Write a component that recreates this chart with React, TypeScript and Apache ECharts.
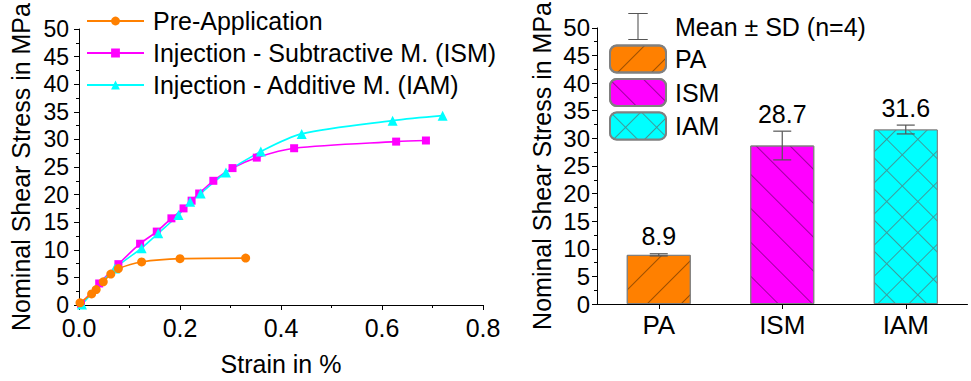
import React, { useEffect, useRef } from "react";
import * as echarts from "echarts";

// ---- Left chart: stress-strain curves (strain %, stress MPa)
const preApplication: [number, number][] = [
  [0.002, 0.4], [0.025, 2.0], [0.034, 2.8], [0.048, 4.2], [0.063, 5.6],
  [0.078, 6.6], [0.124, 7.8], [0.2, 8.4], [0.33, 8.5],
];
const injectionSubtractive: [number, number][] = [
  [0.004, 0.2], [0.04, 3.9], [0.078, 7.4], [0.121, 11.1], [0.154, 13.3],
  [0.183, 15.7], [0.207, 17.5], [0.223, 18.9], [0.238, 20.2], [0.266, 22.5],
  [0.304, 24.8], [0.352, 26.7], [0.426, 28.4], [0.628, 29.6], [0.687, 29.8],
];
const injectionAdditive: [number, number][] = [
  [0.006, 0.1], [0.071, 6.6], [0.124, 10.3], [0.157, 13.0], [0.197, 16.3],
  [0.22, 18.7], [0.241, 20.2], [0.291, 24.0], [0.36, 27.8], [0.441, 31.0],
  [0.621, 33.4], [0.72, 34.3],
];
const lineNames = [
  "Pre-Application",
  "Injection - Subtractive M. (ISM)",
  "Injection - Additive M. (IAM)",
];

// ---- Right chart: mean ± SD bars
const categories = ["PA", "ISM", "IAM"];
const means = [8.9, 28.7, 31.6];
const sds = [0.2, 2.6, 0.8];
const errorName = "Mean \u00b1 SD (n=4)";

const FONT = '"Liberation Sans", Arial, sans-serif';

const axisCommon = {
  axisLine: { show: true, lineStyle: { color: "#000", width: 1 } },
  axisTick: { show: true, length: 5, lineStyle: { color: "#000", width: 1 } },
  splitLine: { show: false },
};

export default function App() {
  const ref = useRef<HTMLDivElement>(null);

  useEffect(() => {
    if (!ref.current) return;
    const chart = echarts.init(ref.current, null, { renderer: "svg" });

    const barColors = ["#FF8000", "#FF00FF", "#3c9c9c"];
    const decals: any[] = [
      {
        symbol: "rect", symbolSize: 1, dashArrayX: [24, 0], dashArrayY: [1, 23],
        rotation: -Math.PI / 4, color: "rgba(0,0,0,0.38)",
      },
      {
        symbol: "rect", symbolSize: 1, dashArrayX: [24, 0], dashArrayY: [1, 23],
        rotation: Math.PI / 4, color: "rgba(0,0,0,0.38)",
      },
      {
        symbol: "rect", symbolSize: 1, dashArrayX: [21, 1], dashArrayY: [21, 1],
        rotation: Math.PI / 4, color: "#00FFFF",
      },
    ];

    const barSeries = categories.map((c, i) => ({
      name: c,
      type: "bar",
      xAxisIndex: 1,
      yAxisIndex: 1,
      barWidth: 64,
      barGap: "-100%",
      data: categories.map((_, j) => (j === i ? means[j] : "-")),
      itemStyle: {
        color: barColors[i],
        borderColor: "#808080",
        borderWidth: 1,
        decal: decals[i],
      },
    }));

    const errorData = categories.map((_, i) => [i, means[i], sds[i]]);

    const option: any = {
      animation: false,
      backgroundColor: "#fff",
      textStyle: { fontFamily: FONT, color: "#000" },
      grid: [
        { left: 79, top: 29, width: 404, height: 276 },
        { left: 597, top: 18, width: 370.5, height: 286 },
      ],
      legend: [
        {
          data: lineNames,
          orient: "vertical",
          left: 86,
          top: 8.5,
          padding: 0,
          itemWidth: 57,
          itemHeight: 11,
          itemGap: 7,
          selectedMode: false,
          textStyle: { fontFamily: FONT, fontSize: 25, lineHeight: 25, color: "#000", padding: [0, 0, 0, 4] },
        },
        {
          data: [
            {
              name: errorName,
              icon: "path://M0,0h18v1h-18z M8.5,0h1v25h-1z M0,24h18v1h-18z",
              itemStyle: { color: "#555" },
            },
            "PA",
            "ISM",
            "IAM",
          ],
          orient: "vertical",
          left: 609,
          top: 13,
          padding: 0,
          itemWidth: 56,
          itemHeight: 27,
          itemGap: 4.5,
          selectedMode: false,
          textStyle: { fontFamily: FONT, fontSize: 25, lineHeight: 25, color: "#000", padding: [0, 0, 0, 4] },
        },
      ],
      xAxis: [
        {
          ...axisCommon,
          gridIndex: 0,
          type: "value",
          min: 0,
          max: 0.8,
          interval: 0.2,
          minorTick: { show: true, splitNumber: 2, length: 3, lineStyle: { color: "#000" } },
          axisLabel: {
            fontSize: 25, lineHeight: 22, color: "#000", fontFamily: FONT, margin: 12,
            formatter: (v: number) => v.toFixed(1),
          },
          name: "Strain in %",
          nameLocation: "middle",
          nameGap: 46,
          nameTextStyle: { fontSize: 25, color: "#000", fontFamily: FONT },
        },
        {
          ...axisCommon,
          gridIndex: 1,
          type: "category",
          data: categories,
          axisTick: { show: true, alignWithLabel: true, length: 5, lineStyle: { color: "#000" } },
          axisLabel: { fontSize: 26, color: "#000", fontFamily: FONT, margin: 8 },
        },
      ],
      yAxis: [
        {
          ...axisCommon,
          gridIndex: 0,
          type: "value",
          min: 0,
          max: 50,
          interval: 5,
          minorTick: { show: true, splitNumber: 2, length: 3, lineStyle: { color: "#000" } },
          axisLabel: { fontSize: 23, lineHeight: 18, color: "#000", fontFamily: FONT, margin: 10 },
          name: "Nominal Shear Stress in MPa",
          nameLocation: "middle",
          nameGap: 46,
          nameTextStyle: { fontSize: 25, color: "#000", fontFamily: FONT },
        },
        {
          ...axisCommon,
          gridIndex: 1,
          type: "value",
          min: 0,
          max: 50,
          interval: 5,
          minorTick: { show: true, splitNumber: 2, length: 3, lineStyle: { color: "#000" } },
          axisLabel: { fontSize: 24, lineHeight: 18, color: "#000", fontFamily: FONT, margin: 7 },
          name: "Nominal Shear Stress in MPa",
          nameLocation: "middle",
          nameGap: 43,
          nameTextStyle: { fontSize: 25, color: "#000", fontFamily: FONT },
        },
      ],
      series: [
        {
          name: lineNames[1],
          type: "line",
          xAxisIndex: 0,
          yAxisIndex: 0,
          data: injectionSubtractive,
          smooth: 0.3,
          symbol: "rect",
          symbolSize: 8,
          color: "#FF00FF",
          lineStyle: { width: 1.6, color: "#FF00FF" },
          itemStyle: { color: "#FF00FF" },
        },
        {
          name: lineNames[2],
          type: "line",
          xAxisIndex: 0,
          yAxisIndex: 0,
          data: injectionAdditive,
          smooth: 0.3,
          symbol: "triangle",
          symbolSize: 10,
          color: "#00FFFF",
          lineStyle: { width: 1.6, color: "#00FFFF" },
          itemStyle: { color: "#00FFFF" },
        },
        {
          name: lineNames[0],
          type: "line",
          xAxisIndex: 0,
          yAxisIndex: 0,
          data: preApplication,
          smooth: 0.3,
          symbol: "circle",
          symbolSize: 9,
          color: "#FF8000",
          lineStyle: { width: 1.6, color: "#FF8000" },
          itemStyle: { color: "#FF8000" },
        },
        ...barSeries,
        {
          name: errorName,
          type: "custom",
          xAxisIndex: 1,
          yAxisIndex: 1,
          z: 5,
          data: errorData,
          encode: { x: 0, y: 1 },
          itemStyle: { color: "#555" },
          renderItem: (params: any, api: any) => {
            const x = api.value(0);
            const m = api.value(1);
            const sd = api.value(2);
            const top = api.coord([x, m + sd]);
            const bot = api.coord([x, m - sd]);
            const hw = 9;
            const st = { stroke: "#555", lineWidth: 1.2 };
            return {
              type: "group",
              children: [
                { type: "line", shape: { x1: top[0], y1: top[1], x2: bot[0], y2: bot[1] }, style: st },
                { type: "line", shape: { x1: top[0] - hw, y1: top[1], x2: top[0] + hw, y2: top[1] }, style: st },
                { type: "line", shape: { x1: bot[0] - hw, y1: bot[1], x2: bot[0] + hw, y2: bot[1] }, style: st },
                {
                  type: "text",
                  x: top[0],
                  y: top[1] - 5,
                  style: {
                    text: m.toFixed(1),
                    textAlign: "center",
                    textVerticalAlign: "bottom",
                    fontSize: 25,
                    fontFamily: FONT,
                    fill: "#000",
                  },
                },
              ],
            };
          },
        },
      ],
    };

    chart.setOption(option);
    return () => chart.dispose();
  }, []);

  return (
    <div
      ref={ref}
      style={{ position: "fixed", left: 0, top: 0, width: 971, height: 381, background: "#fff" }}
    />
  );
}
